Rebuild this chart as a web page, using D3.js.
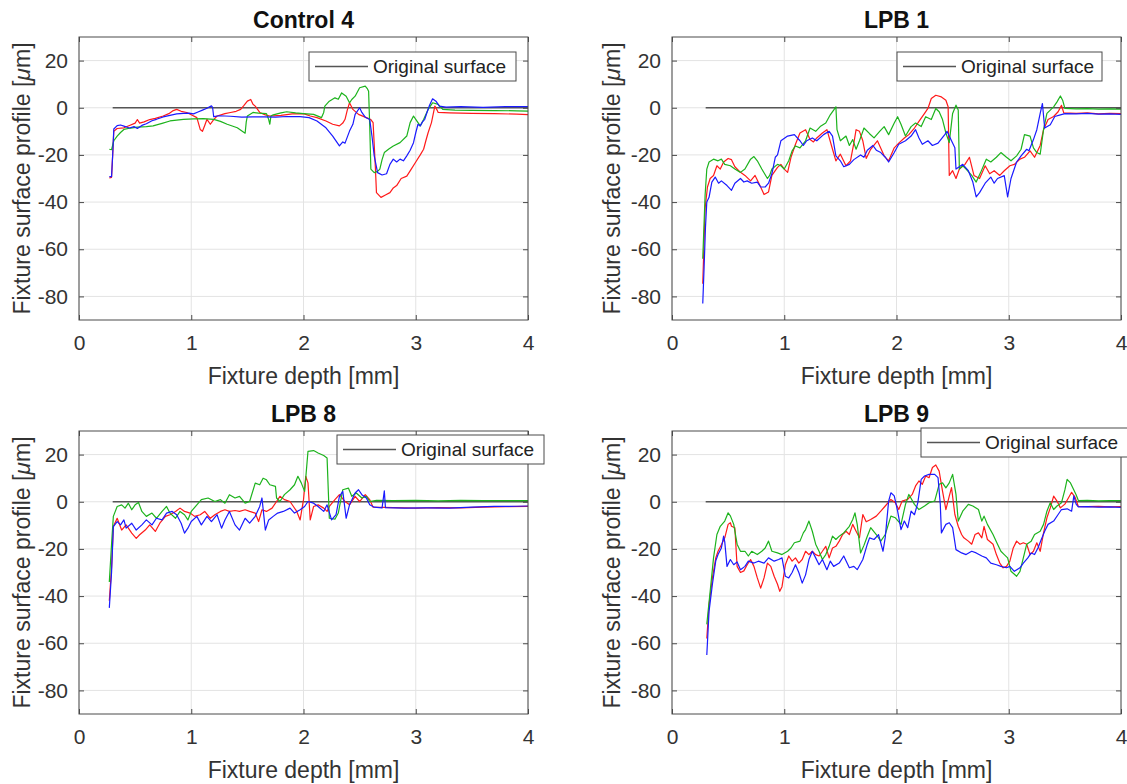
<!DOCTYPE html>
<html>
<head>
<meta charset="utf-8">
<script src="https://cdn.jsdelivr.net/npm/d3@7"></script>
<style>
  body { margin: 0; background: #fff; }
  svg { display: block; font-family: "Liberation Sans", Arial, Helvetica, sans-serif; }
</style>
</head>
<body>
<svg id="fig" width="1127" height="784"></svg>
<script>
// axis setup
const xTicks = [0, 1, 2, 3, 4];
const yTicks = [-80, -60, -40, -20, 0, 20];
const titles = ['Control 4', 'LPB 1', 'LPB 8', 'LPB 9'];
const legendLabel = 'Original surface';
const originalSurface = [[0.3, 0], [4, 0]];

// profiles: [depth mm, profile um]
const c4Red = [[0.27,-29.8],[0.29,-29.5],[0.30,-20],[0.31,-10],[0.34,-8.8],[0.40,-8.5],[0.45,-7.5],[0.50,-6.5],[0.52,-5.0],[0.54,-6.5],[0.58,-6.0],[0.63,-5.0],[0.68,-4.5],[0.75,-3.5],[0.80,-2.5],[0.84,-1.2],[0.87,-0.7],[0.91,-1.5],[0.96,-2],[1.00,-3],[1.05,-4.2],[1.08,-9.2],[1.10,-10],[1.12,-7.5],[1.14,-4.9],[1.17,-7],[1.20,-5],[1.23,-3.5],[1.30,-2.5],[1.35,-2],[1.40,-1.5],[1.44,-0.7],[1.47,1],[1.50,2.8],[1.53,3.5],[1.55,1.5],[1.57,0.7],[1.61,-2],[1.66,-3],[1.70,-3.5],[1.80,-3.2],[1.90,-2.6],[2.00,-2.5],[2.06,-3.5],[2.12,-4.2],[2.20,-5.6],[2.26,-7],[2.32,-7.7],[2.35,-6.5],[2.37,-4.9],[2.39,-1],[2.41,2.1],[2.44,-0.7],[2.49,-2.8],[2.56,-4.2],[2.60,-5],[2.62,-6.3],[2.64,-25],[2.65,-36],[2.69,-38],[2.73,-37],[2.77,-36],[2.80,-34],[2.83,-33],[2.87,-30],[2.92,-29],[2.96,-26],[3.00,-23],[3.04,-20],[3.07,-17.6],[3.09,-14],[3.11,-10.6],[3.14,-6.3],[3.17,0.7],[3.19,-1],[3.20,-2],[3.3,-2.2],[3.5,-2.4],[3.7,-2.5],[3.9,-2.7],[4.0,-2.9]];
const c4Green = [[0.27,-17.6],[0.29,-17.8],[0.31,-14],[0.34,-12],[0.37,-10.5],[0.40,-9.2],[0.46,-8.6],[0.52,-8.2],[0.60,-8],[0.66,-7.7],[0.74,-6.6],[0.81,-5.6],[0.93,-4.9],[1.02,-4.7],[1.11,-4.6],[1.20,-4.9],[1.26,-5.8],[1.32,-7],[1.41,-8.5],[1.48,-10.8],[1.49,-6],[1.50,-3.5],[1.55,-2],[1.60,-2.3],[1.67,-2.5],[1.69,-5],[1.70,-7],[1.71,-3.5],[1.73,-3],[1.80,-2.2],[1.85,-1.7],[1.93,-2.2],[2.00,-2.5],[2.09,-2.8],[2.16,-4.2],[2.18,-2],[2.19,0.7],[2.23,2.8],[2.28,4.2],[2.31,3.6],[2.34,6.3],[2.38,4.9],[2.41,2.1],[2.43,3.5],[2.46,4.9],[2.50,8.5],[2.55,9.2],[2.57,8],[2.58,7],[2.59,-7.7],[2.60,-26],[2.63,-27.5],[2.66,-27],[2.68,-26],[2.70,-22],[2.72,-19],[2.76,-17.5],[2.80,-16.2],[2.86,-14.8],[2.92,-12],[2.95,-6.3],[2.98,-3.5],[3.00,-4.9],[3.04,-7.7],[3.07,-5],[3.11,-0.7],[3.15,2.1],[3.20,1.4],[3.24,-0.7],[3.35,-1],[3.5,-1.1],[3.7,-1.2],[3.9,-1.3],[4.0,-1.4]];
const c4Blue = [[0.27,-29.2],[0.29,-29.2],[0.30,-20],[0.31,-9],[0.34,-7.6],[0.37,-7.3],[0.40,-7.8],[0.45,-8.6],[0.49,-8.0],[0.52,-8.8],[0.56,-7.5],[0.60,-6.8],[0.65,-5.5],[0.69,-4.9],[0.75,-3.9],[0.81,-3.2],[0.87,-2.6],[0.93,-2.4],[0.98,-2.3],[1.02,-2.6],[1.06,-1.8],[1.10,-1.0],[1.14,-0.2],[1.18,0.8],[1.19,0.2],[1.20,-3.8],[1.25,-3.4],[1.35,-3.6],[1.45,-4.0],[1.55,-3.9],[1.65,-3.9],[1.75,-4.0],[1.85,-3.7],[1.97,-3.8],[2.05,-4.2],[2.12,-5.6],[2.20,-8.5],[2.26,-12],[2.32,-16.2],[2.35,-14.5],[2.37,-15],[2.41,-9.9],[2.44,-7],[2.46,-2.8],[2.50,0],[2.52,-2],[2.55,-4],[2.59,-5],[2.61,-12],[2.63,-20.4],[2.66,-27.5],[2.70,-28.5],[2.74,-28],[2.77,-24],[2.80,-21.8],[2.83,-23],[2.86,-21.8],[2.89,-22.5],[2.92,-20.4],[2.95,-18],[2.98,-14.8],[3.00,-10.6],[3.02,-7],[3.04,-7.7],[3.06,-6],[3.08,-4.9],[3.10,-2],[3.12,0.7],[3.15,3.8],[3.18,2.8],[3.21,0.7],[3.27,0.3],[3.4,0.5],[3.6,0.2],[3.8,0.5],[4.0,0.5]];

const lpb1Red = [[0.274,-74.6],[0.295,-42.6],[0.316,-33.6],[0.34,-30],[0.37,-28.7],[0.4,-24.6],[0.43,-26],[0.46,-23],[0.5,-21.5],[0.53,-22],[0.56,-25],[0.61,-27.4],[0.65,-28.7],[0.7,-31],[0.74,-28.7],[0.79,-33.6],[0.82,-36.8],[0.86,-35.7],[0.89,-28.7],[0.94,-25.3],[0.97,-24],[1.0,-26],[1.03,-27.4],[1.06,-21],[1.1,-15.5],[1.14,-10.7],[1.19,-9.3],[1.23,-13.5],[1.26,-14.5],[1.29,-12.8],[1.34,-10.7],[1.38,-9.3],[1.43,-17.6],[1.46,-22.5],[1.5,-19.7],[1.55,-24.6],[1.59,-22.5],[1.62,-15],[1.64,-9.3],[1.67,-10],[1.7,-14],[1.73,-21.5],[1.77,-17.6],[1.83,-14],[1.89,-20.4],[1.93,-22.5],[1.98,-17],[2.02,-15],[2.07,-12.8],[2.11,-11.4],[2.16,-8.6],[2.2,-5.8],[2.25,-2.4],[2.28,-0.3],[2.31,3.9],[2.35,5.3],[2.4,4.6],[2.44,3.2],[2.46,0.4],[2.47,-28.7],[2.5,-26.7],[2.53,-30],[2.56,-26],[2.61,-24],[2.65,-21],[2.69,-28.7],[2.74,-30],[2.79,-24.6],[2.83,-28],[2.87,-26.7],[2.92,-28.7],[2.96,-26.7],[3.01,-24.6],[3.05,-24],[3.1,-21.8],[3.14,-21],[3.19,-18.3],[3.23,-21],[3.28,-16],[3.31,-9.3],[3.35,-5],[3.4,-3.7],[3.44,-1.7],[3.47,1.0],[3.49,-2.2],[3.6,-2.4],[3.7,-2.2],[3.8,-2.6],[3.9,-2.4],[4.0,-2.5]];
const lpb1Green = [[0.274,-64],[0.295,-37],[0.31,-26],[0.33,-23],[0.37,-21.8],[0.41,-22.5],[0.44,-21.8],[0.47,-24],[0.52,-24.6],[0.56,-26],[0.61,-27.4],[0.65,-26],[0.7,-21.8],[0.73,-20.7],[0.76,-22.5],[0.8,-26],[0.85,-30],[0.87,-28.7],[0.89,-26],[0.94,-24],[0.97,-24.6],[1.0,-26],[1.04,-22.5],[1.07,-18.3],[1.1,-16.2],[1.14,-17],[1.19,-14],[1.23,-8.6],[1.28,-10],[1.32,-8],[1.37,-6.5],[1.41,-3],[1.44,-1],[1.46,0.4],[1.47,-9.3],[1.5,-14],[1.55,-12],[1.58,-16],[1.61,-13.5],[1.64,-17.6],[1.67,-14],[1.7,-10],[1.71,-8.6],[1.76,-11],[1.8,-12.8],[1.85,-10],[1.89,-8],[1.93,-11.4],[1.98,-6.5],[2.01,-3.8],[2.04,-7],[2.08,-12],[2.13,-8],[2.17,-6.5],[2.22,-8],[2.26,-3.8],[2.31,-5],[2.35,-0.3],[2.38,-1.7],[2.41,-5],[2.44,-10.7],[2.47,-14.8],[2.5,-2.4],[2.53,1.1],[2.55,-1],[2.56,-26],[2.59,-24.6],[2.62,-26],[2.67,-28.7],[2.71,-31.5],[2.75,-27.4],[2.8,-21.8],[2.84,-23],[2.89,-21],[2.93,-19],[2.98,-21],[3.02,-22.5],[3.07,-20.4],[3.11,-17.6],[3.14,-11.4],[3.19,-12],[3.22,-17],[3.25,-19],[3.28,-19.7],[3.31,-9.3],[3.34,-2.4],[3.37,-1],[3.4,0.4],[3.43,2.5],[3.46,5],[3.48,3.2],[3.5,-0.3],[3.6,-0.5],[3.7,-0.4],[3.8,-0.6],[3.9,-0.5],[4.0,-0.6]];
const lpb1Blue = [[0.274,-83],[0.286,-67.6],[0.298,-51],[0.31,-40],[0.33,-38],[0.355,-31.5],[0.385,-29.4],[0.415,-32],[0.44,-31],[0.49,-33],[0.53,-35],[0.56,-32],[0.61,-30],[0.64,-31.5],[0.67,-31],[0.71,-32],[0.76,-31.5],[0.79,-33.6],[0.83,-33.6],[0.86,-32],[0.89,-28],[0.92,-21],[0.94,-20],[0.97,-14],[1.03,-12],[1.09,-11.4],[1.14,-14],[1.17,-16],[1.2,-14],[1.25,-12.8],[1.29,-14],[1.35,-11.4],[1.4,-10],[1.43,-12],[1.46,-20.4],[1.5,-22.5],[1.53,-25],[1.58,-24],[1.62,-22],[1.68,-20],[1.71,-21],[1.74,-18],[1.79,-16],[1.82,-18],[1.86,-19],[1.9,-21],[1.93,-23],[1.98,-19],[2.02,-15.5],[2.08,-14],[2.13,-12],[2.17,-9.3],[2.2,-12.8],[2.23,-15.5],[2.28,-14],[2.32,-16],[2.37,-15],[2.43,-11.4],[2.45,-10],[2.49,-14],[2.52,-17],[2.53,-26],[2.56,-25],[2.59,-24],[2.64,-26.7],[2.68,-31.5],[2.71,-37.8],[2.74,-36],[2.79,-32],[2.84,-29.4],[2.87,-32],[2.9,-30],[2.96,-28.8],[2.99,-37.8],[3.02,-30],[3.07,-23],[3.11,-20.4],[3.16,-17.6],[3.18,-18.2],[3.22,-13.5],[3.25,-9.3],[3.28,-2.4],[3.3,1.8],[3.32,-8.6],[3.37,-7.2],[3.41,-3.7],[3.46,-3],[3.5,-2.5],[3.6,-2.6],[3.7,-2.4],[3.8,-2.7],[3.9,-2.6],[4.0,-2.8]];

const lpb8Red = [[0.27,-42],[0.29,-28],[0.306,-10.5],[0.34,-7],[0.38,-12],[0.42,-9.8],[0.47,-13.3],[0.51,-15.5],[0.54,-14],[0.59,-12],[0.63,-9.8],[0.68,-12.6],[0.72,-9.1],[0.77,-6.2],[0.81,-5.5],[0.86,-4.1],[0.9,-2.7],[0.94,-4.1],[0.99,-4.8],[1.03,-6.2],[1.08,-5.5],[1.12,-4.1],[1.17,-7],[1.21,-5.5],[1.26,-4.1],[1.3,-3.4],[1.34,-4.1],[1.39,-3.7],[1.43,-4.1],[1.48,-3.4],[1.52,-4.1],[1.57,-4.8],[1.6,-8.4],[1.63,-3.4],[1.67,-4.1],[1.72,-2.7],[1.76,0.1],[1.79,2.3],[1.83,0.9],[1.88,0.1],[1.91,-2],[1.94,-4.1],[1.97,-7.7],[2.0,0.9],[2.02,10.8],[2.04,8],[2.06,-7.7],[2.09,-2],[2.13,-1.3],[2.18,-2.7],[2.21,-4.1],[2.23,-2],[2.28,0.9],[2.32,3],[2.37,0.1],[2.41,-1.3],[2.46,2.3],[2.5,0.1],[2.55,3],[2.59,0.9],[2.62,-2.3],[2.8,-2.5],[3.0,-2.7],[3.2,-2.5],[3.4,-2.6],[3.6,-2.3],[3.8,-2.1],[4.0,-2.0]];
const lpb8Green = [[0.27,-34],[0.29,-18],[0.306,-6.2],[0.34,-2],[0.38,-1.3],[0.41,-2.7],[0.44,-0.6],[0.47,-3.4],[0.5,-1.3],[0.53,-0.3],[0.56,-4.1],[0.6,-6.2],[0.65,-4.8],[0.69,-7],[0.74,-4.1],[0.78,-2],[0.81,-4.8],[0.86,-7],[0.9,-4.1],[0.94,-5.5],[0.97,-7.7],[1.0,-4.1],[1.05,-1.3],[1.09,0.9],[1.15,1.6],[1.21,0.1],[1.26,0.9],[1.3,-0.6],[1.34,3],[1.39,1.6],[1.43,2.3],[1.48,-0.6],[1.52,0.1],[1.57,7.9],[1.61,7.2],[1.64,10],[1.67,9.3],[1.7,7.2],[1.75,6.5],[1.76,1.6],[1.79,0.1],[1.83,3],[1.88,5.1],[1.92,7.2],[1.95,10.8],[1.98,8],[2.01,4.4],[2.04,21.4],[2.09,21.7],[2.13,20.7],[2.18,19.6],[2.21,18.6],[2.23,-7],[2.28,-7.4],[2.31,-4.8],[2.35,5.1],[2.4,5.8],[2.43,2.3],[2.47,3.7],[2.52,1.6],[2.56,2.3],[2.59,0.1],[2.65,0.6],[2.8,0.5],[3.0,0.6],[3.2,0.4],[3.4,0.6],[3.6,0.5],[3.8,0.5],[4.0,0.5]];
const lpb8Blue = [[0.27,-45],[0.29,-30],[0.306,-10.5],[0.34,-8.4],[0.37,-9.8],[0.4,-7.7],[0.42,-11.2],[0.47,-9.1],[0.51,-12],[0.56,-9.8],[0.6,-7.7],[0.65,-9.8],[0.69,-7],[0.74,-7.7],[0.78,-4.8],[0.83,-4.1],[0.87,-5.5],[0.91,-9.1],[0.94,-13.3],[0.97,-11.2],[1.0,-8.4],[1.05,-6.2],[1.09,-9.8],[1.14,-6.2],[1.18,-8.4],[1.23,-5.5],[1.27,-11.2],[1.3,-7.7],[1.34,-4.1],[1.39,-9.8],[1.43,-12],[1.48,-7],[1.52,-9.1],[1.57,-6.2],[1.61,-2],[1.63,1.6],[1.66,-12],[1.69,-7.7],[1.73,-6.2],[1.77,-4.8],[1.82,-4.1],[1.88,-2.7],[1.92,-4.8],[1.97,-3.4],[2.01,-2],[2.04,0.1],[2.09,-0.6],[2.13,-2],[2.18,-4.1],[2.21,-1.3],[2.25,-7.7],[2.29,-5.5],[2.32,2.3],[2.35,4.4],[2.38,-7],[2.41,-1.3],[2.46,3.7],[2.49,5.1],[2.52,3],[2.56,1.6],[2.59,-1.3],[2.63,-2.3],[2.7,-2.6],[2.72,4.6],[2.73,-2.5],[2.9,-2.7],[3.1,-2.6],[3.3,-2.7],[3.5,-2.3],[3.7,-2.0],[3.9,-1.9],[4.0,-1.8]];

const lpb9Red = [[0.31,-58],[0.33,-43.7],[0.36,-32.3],[0.39,-23.8],[0.41,-21],[0.44,-18.2],[0.47,-15.3],[0.5,-9.6],[0.52,-8.9],[0.53,-10.4],[0.56,-11],[0.58,-27.4],[0.61,-30],[0.64,-29.3],[0.67,-26.7],[0.7,-24.5],[0.73,-27.4],[0.76,-32.3],[0.79,-36.6],[0.82,-32.3],[0.85,-26],[0.88,-27.4],[0.91,-31.6],[0.94,-35],[0.96,-38],[0.98,-36],[1.01,-26.7],[1.04,-23],[1.07,-25.2],[1.1,-23.8],[1.13,-26],[1.16,-24.5],[1.19,-21],[1.22,-22.4],[1.25,-21],[1.28,-22.4],[1.31,-23],[1.34,-21],[1.37,-18.9],[1.4,-23.8],[1.43,-19.6],[1.46,-18.9],[1.49,-16.7],[1.52,-13.9],[1.55,-12.5],[1.58,-13.9],[1.61,-9.6],[1.64,-12.5],[1.67,-15.3],[1.7,-5.4],[1.73,-8.5],[1.77,-7.5],[1.82,-6.1],[1.86,-4],[1.9,-1.8],[1.95,1],[1.99,-0.4],[2.02,-3.3],[2.05,0.3],[2.1,1],[2.14,3.1],[2.17,6.7],[2.2,8.8],[2.23,7.4],[2.26,10.9],[2.29,10.2],[2.32,14.5],[2.35,15.6],[2.38,13],[2.41,4.5],[2.44,-3.3],[2.47,2.4],[2.49,6],[2.52,-5.4],[2.55,-10.4],[2.58,-13.9],[2.6,-15.3],[2.64,-16.7],[2.67,-18],[2.7,-13.9],[2.73,-13.2],[2.76,-15.3],[2.78,-10.4],[2.81,-16],[2.86,-18],[2.89,-22.4],[2.92,-26],[2.95,-28],[2.98,-27.4],[3.01,-25.2],[3.04,-19.6],[3.07,-16.7],[3.1,-18],[3.13,-17.4],[3.16,-18],[3.19,-22.4],[3.22,-21],[3.25,-17.4],[3.28,-21],[3.31,-13.2],[3.34,-6.8],[3.37,-2.6],[3.4,2.4],[3.43,0.3],[3.46,-2.6],[3.5,-1],[3.53,1.5],[3.56,4],[3.59,2],[3.62,-2],[3.7,-2.1],[3.8,-2.0],[3.9,-2.2],[4.0,-2.1]];
const lpb9Green = [[0.31,-52],[0.34,-38],[0.37,-23.8],[0.4,-13.9],[0.43,-10.4],[0.47,-8.2],[0.5,-4.7],[0.52,-6],[0.55,-9.6],[0.58,-18],[0.61,-21],[0.65,-21],[0.68,-23],[0.71,-21],[0.76,-22.4],[0.8,-21],[0.83,-19.6],[0.86,-16.7],[0.89,-21],[0.94,-21.7],[0.98,-22.4],[1.03,-21],[1.06,-19.6],[1.09,-17.4],[1.14,-16.7],[1.17,-13.2],[1.19,-11.8],[1.22,-8.2],[1.25,-12.5],[1.28,-18],[1.31,-21],[1.34,-24.5],[1.37,-22.4],[1.4,-18.9],[1.43,-14.6],[1.46,-16],[1.49,-14.6],[1.53,-13.2],[1.58,-10.4],[1.61,-7.5],[1.63,-4.7],[1.65,-9.6],[1.68,-21.7],[1.71,-18.5],[1.74,-14.6],[1.77,-11],[1.82,-13.9],[1.86,-16.7],[1.9,-13.9],[1.95,-6.1],[1.99,-6.8],[2.04,-9.6],[2.08,-1.1],[2.11,3.1],[2.16,-1.1],[2.2,-3.3],[2.25,-1.8],[2.29,-0.4],[2.34,0.3],[2.38,7.4],[2.41,8],[2.44,5.9],[2.47,8],[2.5,11.6],[2.53,3.1],[2.55,-8.2],[2.59,-4],[2.64,-1.1],[2.68,-1.8],[2.73,-3.3],[2.76,-8.2],[2.78,-6.1],[2.81,-9.6],[2.86,-13.9],[2.9,-18],[2.93,-21],[2.96,-22.4],[2.99,-23.8],[3.02,-29.5],[3.07,-31.6],[3.1,-29.5],[3.13,-23.8],[3.16,-18],[3.2,-16.7],[3.23,-13.9],[3.28,-12.5],[3.31,-9.6],[3.34,-4],[3.37,-0.4],[3.4,-3.3],[3.43,-1.8],[3.47,-0.4],[3.5,5],[3.52,9.5],[3.55,8],[3.58,5],[3.6,3],[3.62,0.5],[3.7,0.6],[3.8,0.4],[3.9,0.5],[4.0,0.5]];
const lpb9Blue = [[0.31,-65],[0.33,-46.5],[0.36,-35],[0.39,-25],[0.41,-22.4],[0.44,-19.6],[0.46,-14.6],[0.47,-17],[0.49,-27.4],[0.52,-24.5],[0.55,-26.7],[0.58,-25.5],[0.61,-28.8],[0.65,-27.4],[0.68,-25.2],[0.73,-26],[0.77,-25.2],[0.82,-26],[0.86,-23.8],[0.91,-25.2],[0.95,-24.5],[0.98,-23.8],[1.01,-31.6],[1.04,-32.3],[1.07,-30],[1.1,-26.7],[1.13,-30],[1.16,-34.5],[1.19,-31],[1.22,-24.5],[1.25,-21],[1.28,-23.8],[1.31,-26.7],[1.34,-24.5],[1.38,-28.8],[1.41,-25.2],[1.44,-27.4],[1.49,-26],[1.53,-23],[1.58,-28],[1.62,-27.4],[1.65,-28.8],[1.7,-24.5],[1.74,-18],[1.76,-15.3],[1.8,-16],[1.84,-13.9],[1.88,-21],[1.9,-15],[1.93,0.3],[1.95,3.8],[1.98,2.5],[2.01,-4],[2.04,-11.8],[2.07,-8.2],[2.1,-11],[2.13,-4],[2.16,-5.5],[2.19,-0.4],[2.22,9.5],[2.25,10.9],[2.29,11.6],[2.34,11.6],[2.37,10.2],[2.39,-1],[2.4,-13.2],[2.44,-9.6],[2.47,-8.9],[2.5,-11],[2.53,-20.3],[2.58,-21.7],[2.62,-22.4],[2.67,-21],[2.71,-21.7],[2.76,-23],[2.8,-23.8],[2.84,-26],[2.89,-26.7],[2.93,-27.4],[2.98,-28],[3.01,-27.4],[3.05,-29.5],[3.1,-28],[3.13,-26],[3.17,-23.8],[3.2,-21.7],[3.23,-22.4],[3.26,-19.6],[3.29,-16],[3.32,-12.5],[3.35,-9.6],[3.4,-8.2],[3.44,-5.4],[3.47,-3.3],[3.52,-3],[3.56,-4],[3.58,2.5],[3.6,-1],[3.62,-2.2],[3.7,-2.1],[3.8,-2.3],[3.9,-2.2],[4.0,-2.4]];

const svg = d3.select('#fig');
const plotW = 449, plotH = 283;
const colors = ['#ff1a1a', '#1db31d', '#1a1aff'];
const axisColor = '#4a4a4a';

const panels = [
  { title: titles[0], series: [c4Red, c4Green, c4Blue], left: 79, top: 37, legend: [309, 52, 207] },
  { title: titles[1], series: [lpb1Red, lpb1Green, lpb1Blue], left: 672, top: 37, legend: [897, 52, 205] },
  { title: titles[2], series: [lpb8Red, lpb8Green, lpb8Blue], left: 79, top: 431, legend: [337, 435, 207] },
  { title: titles[3], series: [lpb9Red, lpb9Green, lpb9Blue], left: 672, top: 431, legend: [921, 428, 210] },
];

panels.forEach((p, i) => {
  const g = svg.append('g').attr('transform', `translate(${p.left},${p.top})`);
  const x = d3.scaleLinear().domain([0, 4]).range([0, plotW]);
  const y = d3.scaleLinear().domain([-90, 30]).range([plotH, 0]);

  // grid
  g.append('g').selectAll('line.gx').data(xTicks).join('line')
    .attr('x1', d => x(d)).attr('x2', d => x(d)).attr('y1', 0).attr('y2', plotH)
    .attr('stroke', '#e3e3e3');
  g.append('g').selectAll('line.gy').data(yTicks).join('line')
    .attr('x1', 0).attr('x2', plotW).attr('y1', d => y(d)).attr('y2', d => y(d))
    .attr('stroke', '#e3e3e3');

  // data lines
  const line = d3.line().x(d => x(d[0])).y(d => y(d[1]));
  g.append('path').datum(originalSurface).attr('d', line)
    .attr('fill', 'none').attr('stroke', '#555').attr('stroke-width', 1.6);
  p.series.forEach((s, k) => {
    g.append('path').datum(s).attr('d', line)
      .attr('fill', 'none').attr('stroke', colors[k]).attr('stroke-width', 1.2)
      .attr('stroke-linejoin', 'round');
  });

  // inner tick marks on all four sides
  const tick = (axis, tx, ty) => {
    const a = g.append('g').attr('transform', `translate(${tx},${ty})`).call(axis);
    a.select('.domain').remove();
    a.selectAll('line').attr('stroke', axisColor);
  };
  tick(d3.axisBottom(x).tickValues(xTicks).tickSize(-5).tickFormat(''), 0, plotH);
  tick(d3.axisTop(x).tickValues(xTicks).tickSize(-5).tickFormat(''), 0, 0);
  tick(d3.axisLeft(y).tickValues(yTicks).tickSize(-5).tickFormat(''), 0, 0);
  tick(d3.axisRight(y).tickValues(yTicks).tickSize(-5).tickFormat(''), plotW, 0);

  g.append('rect').attr('width', plotW).attr('height', plotH)
    .attr('fill', 'none').attr('stroke', axisColor).attr('stroke-width', 1);

  // tick labels (plain hyphen minus, as in the figure)
  const fmt = d => String(d);
  const xl = g.append('g').attr('transform', `translate(0,${plotH})`)
    .call(d3.axisBottom(x).tickValues(xTicks).tickSize(0).tickPadding(15).tickFormat(fmt));
  const yl = g.append('g')
    .call(d3.axisLeft(y).tickValues(yTicks).tickSize(0).tickPadding(11).tickFormat(fmt));
  [xl, yl].forEach(a => {
    a.select('.domain').remove();
    a.selectAll('text').attr('font-size', 21).attr('fill', '#333')
      .attr('font-family', '"Liberation Sans", Arial, sans-serif');
  });

  // title and axis labels
  g.append('text').attr('x', plotW / 2).attr('y', -9).attr('text-anchor', 'middle')
    .attr('font-size', 23).attr('font-weight', 'bold').attr('fill', '#111').text(p.title);
  g.append('text').attr('x', plotW / 2).attr('y', plotH + 64).attr('text-anchor', 'middle')
    .attr('font-size', 23).attr('fill', '#333').text('Fixture depth [mm]');
  const yt = g.append('text')
    .attr('transform', `translate(${22 - p.left + (p.left > 300 ? 590 : 0)},${plotH / 2}) rotate(-90)`)
    .attr('text-anchor', 'middle').attr('dominant-baseline', 'central')
    .attr('font-size', 23).attr('fill', '#333');
  yt.append('tspan').text('Fixture surface profile [');
  yt.append('tspan').attr('font-style', 'italic').text('\u03bc');
  yt.append('tspan').text('m]');

  // legend
  const [lx, ly, lw] = p.legend;
  const lg = svg.append('g').attr('transform', `translate(${lx},${ly})`);
  lg.append('rect').attr('width', lw).attr('height', 29)
    .attr('fill', '#fff').attr('stroke', axisColor).attr('stroke-width', 1);
  lg.append('line').attr('x1', 6).attr('x2', 59).attr('y1', 14.5).attr('y2', 14.5)
    .attr('stroke', '#555').attr('stroke-width', 1.4);
  lg.append('text').attr('x', 64).attr('y', 14.5).attr('dominant-baseline', 'central')
    .attr('font-size', 19).attr('fill', '#222').text(legendLabel);
});
</script>
</body>
</html>
